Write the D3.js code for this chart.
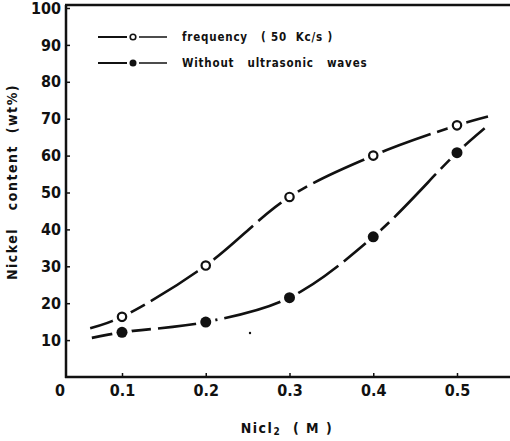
<!DOCTYPE html>
<html><head><meta charset="utf-8">
<script src="https://cdn.jsdelivr.net/npm/d3@7"></script>
<style>
html,body{margin:0;padding:0;background:#fff;}
svg{display:block;}
text{font-family:"DejaVu Sans Condensed","DejaVu Sans",sans-serif;font-weight:bold;fill:#111;}
</style></head>
<body>
<svg id="c" width="510" height="441"></svg>
<script>
// data
const xValues = [0.1, 0.2, 0.3, 0.4, 0.5];
const freqValues = [16.3, 30.2, 48.8, 60.0, 68.2];
const withoutValues = [12.1, 14.9, 21.5, 38.0, 60.8];
const freqEnds = [[0.062, 13.2], [0.537, 70.6]];
const withoutEnds = [[0.064, 10.6], [0.533, 67.4]];
const xTicks = [0.1, 0.2, 0.3, 0.4, 0.5];
const yTicks = [10, 20, 30, 40, 50, 60, 70, 80, 90, 100];
const seriesNames = ["frequency   ( 50  Kc/s )", "Without   ultrasonic   waves"];

const svg = d3.select("#c");
const x = d3.scaleLinear().domain([0.1, 0.5]).range([122, 457]);
const y = d3.scaleLinear().domain([0, 100]).range([377, 8]);
const x0 = 66, yb = 377, yt = 5;

// frame
svg.append("line").attr("x1", x0).attr("x2", x0).attr("y1", yt).attr("y2", yb + 1).attr("stroke", "#111").attr("stroke-width", 2.5);
svg.append("line").attr("x1", x0 - 1).attr("x2", 510).attr("y1", yb).attr("y2", yb).attr("stroke", "#111").attr("stroke-width", 2.5);
svg.append("line").attr("x1", x0 - 1).attr("x2", 510).attr("y1", yt).attr("y2", yt).attr("stroke", "#111").attr("stroke-width", 2.5);

// y axis
const yAxis = d3.axisLeft(y).tickValues(yTicks).tickSize(-4).tickPadding(5).tickFormat(d3.format("d"));
const gy = svg.append("g").attr("transform", `translate(${x0},0)`).call(yAxis);
gy.select(".domain").remove();
gy.selectAll("line").attr("stroke", "#111").attr("stroke-width", 1.5);
gy.selectAll("text").style("font-size", "16px").style("font-family", '"DejaVu Sans Condensed",sans-serif').style("font-weight", "bold").attr("fill", "#111");

// x axis
const xAxis = d3.axisBottom(x).tickValues(xTicks).tickSize(-4).tickPadding(8).tickFormat(d => d3.format(".1f")(d));
const gx = svg.append("g").attr("transform", `translate(0,${yb})`).call(xAxis);
gx.select(".domain").remove();
gx.selectAll("line").attr("stroke", "#111").attr("stroke-width", 1.5);
gx.selectAll("text").style("font-size", "16px").style("font-family", '"DejaVu Sans Condensed",sans-serif').style("font-weight", "bold").attr("fill", "#111");

// origin label
svg.append("text").attr("x", 60).attr("y", 396).attr("text-anchor", "middle").style("font-size", "16px").text("0");

// axis titles
svg.append("text").attr("transform", "translate(17,182) rotate(-90)").attr("text-anchor", "middle")
  .style("font-size", "14px").style("letter-spacing", "1.5px").attr("xml:space", "preserve").style("white-space", "pre")
  .text("Nickel   content  (wt%)");
const xt = svg.append("text").attr("x", 287).attr("y", 433).attr("text-anchor", "middle")
  .style("font-size", "14px").style("letter-spacing", "1.5px").attr("xml:space", "preserve").style("white-space", "pre");
xt.append("tspan").text("Nicl");
xt.append("tspan").attr("dy", 2).style("font-size", "10px").text("2");
xt.append("tspan").attr("dy", -2).text("  ( M )");

// curves
const line = d3.line().x(d => x(d[0])).y(d => y(d[1])).curve(d3.curveCatmullRom.alpha(0.5));
function series(vals, ends, filled) {
  const pts = [ends[0], ...xValues.map((v, i) => [v, vals[i]]), ends[1]];
  svg.append("path").attr("d", line(pts)).attr("fill", "none").attr("stroke", "#111")
    .attr("stroke-width", 2.6).attr("stroke-dasharray", "60,7");
  const pts2 = xValues.map((v, i) => [v, vals[i]]);
  svg.selectAll(null).data(pts2).enter().append("circle")
    .attr("cx", d => x(d[0])).attr("cy", d => y(d[1])).attr("r", 10).attr("fill", "#fff");
  svg.selectAll(null).data(pts2).enter().append("circle")
    .attr("cx", d => x(d[0])).attr("cy", d => y(d[1])).attr("r", filled ? 5.5 : 4.2)
    .attr("fill", filled ? "#111" : "#fff").attr("stroke", "#111").attr("stroke-width", filled ? 0 : 2.2);
}
series(freqValues, freqEnds, false);
series(withoutValues, withoutEnds, true);

// legend
const leg = [[37, false], [63, true]];
leg.forEach(([ly, filled], i) => {
  svg.append("line").attr("x1", 98).attr("x2", 127).attr("y1", ly).attr("y2", ly).attr("stroke", "#111").attr("stroke-width", 2);
  svg.append("line").attr("x1", 139).attr("x2", 167).attr("y1", ly).attr("y2", ly).attr("stroke", "#111").attr("stroke-width", 1.5);
  svg.append("circle").attr("cx", 133).attr("cy", ly).attr("r", filled ? 3.5 : 2.8)
    .attr("fill", filled ? "#111" : "#fff").attr("stroke", "#111").attr("stroke-width", filled ? 0 : 1.6);
  svg.append("text").attr("x", 182).attr("y", ly + 4).style("font-size", "11.5px").style("letter-spacing", "0.8px")
    .attr("xml:space", "preserve").style("white-space", "pre").text(seriesNames[i]);
});
// small stray dot
svg.append("circle").attr("cx", 250).attr("cy", 333).attr("r", 1.2).attr("fill", "#111");
</script>
</body></html>
